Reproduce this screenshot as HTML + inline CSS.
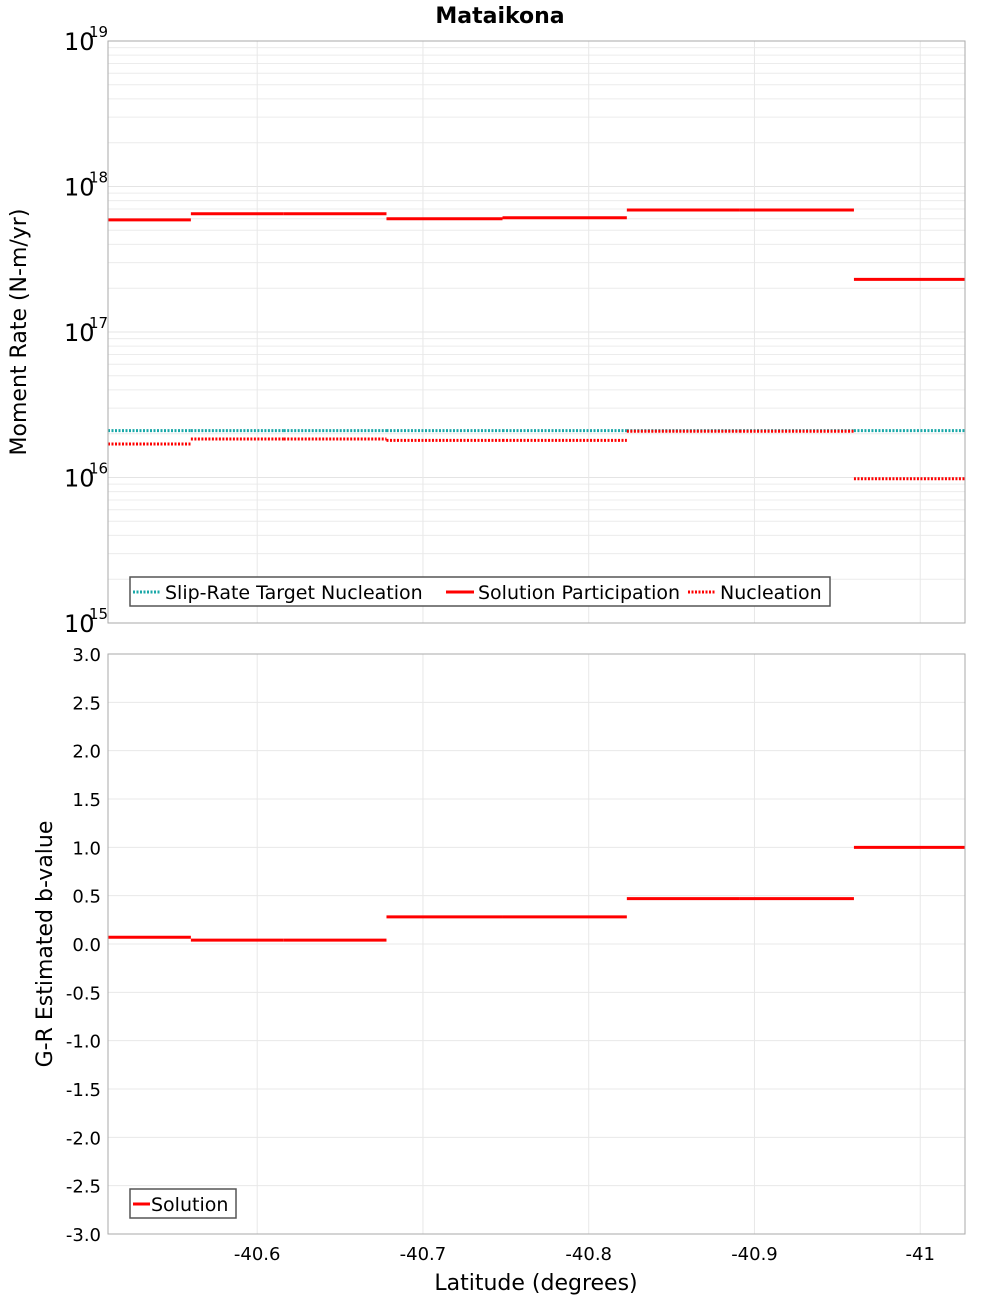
<!DOCTYPE html>
<html><head><meta charset="utf-8"><style>
body{margin:0;background:#fff;}
svg{display:block;font-family:"DejaVu Sans","Liberation Sans",sans-serif;}
</style></head><body>
<svg id="chart" width="1000" height="1300" viewBox="0 0 1000 1300" xmlns="http://www.w3.org/2000/svg">
<text x="500" y="23" text-anchor="middle" font-size="22" font-weight="bold">Mataikona</text>
<text transform="translate(26,332) rotate(-90)" text-anchor="middle" font-size="22">Moment Rate (N-m/yr)</text>
<text transform="translate(52,944) rotate(-90)" text-anchor="middle" font-size="22">G-R Estimated b-value</text>
<text x="536" y="1290" text-anchor="middle" font-size="22">Latitude (degrees)</text>
<g id="topPanel"></g>
<g id="botPanel"></g>
</svg>
<script>
// data
const binEdges = [-40.510, -40.560, -40.616, -40.678, -40.748, -40.823, -40.891, -40.960, -41.027];
const targetNucleation = [2.1e16, 2.1e16, 2.1e16, 2.1e16, 2.1e16, 2.1e16, 2.1e16, 2.1e16];
const solutionParticipation = [5.9e17, 6.5e17, 6.5e17, 6.0e17, 6.1e17, 6.9e17, 6.9e17, 2.3e17];
const nucleation = [1.7e16, 1.84e16, 1.84e16, 1.8e16, 1.8e16, 2.08e16, 2.08e16, 9.8e15];
const bValues = [0.07, 0.04, 0.04, 0.28, 0.28, 0.47, 0.47, 1.0];
const xTicks = [-40.6, -40.7, -40.8, -40.9, -41];
const xTickLabels = ["-40.6", "-40.7", "-40.8", "-40.9", "-41"];
const logTicks = [15, 16, 17, 18, 19];
const bTicks = [3, 2.5, 2, 1.5, 1, 0.5, 0, -0.5, -1, -1.5, -2, -2.5, -3];

const NS = "http://www.w3.org/2000/svg";
const L = 108, R = 965;
const xMin = -40.510, xMax = -41.027;
const X = v => L + (v - xMin) / (xMax - xMin) * (R - L);
const T0 = 41, T1 = 623;
const YT = v => T1 - (Math.log10(v) - 15) / 4 * (T1 - T0);
const B0 = 654, B1 = 1234;
const YB = v => B1 - (v + 3) / 6 * (B1 - B0);

function mk(parent, tag, attrs, text) {
  const e = document.createElementNS(NS, tag);
  for (const k in attrs) e.setAttribute(k, attrs[k]);
  if (text !== undefined) e.textContent = text;
  parent.appendChild(e);
  return e;
}
const topG = document.getElementById('topPanel');
const botG = document.getElementById('botPanel');

// top panel grid
for (let d = 15; d < 19; d++) for (let m = 1; m < 10; m++) {
  const y = YT(m * Math.pow(10, d));
  const g = mk(topG, 'line', {x1: L, x2: R, y1: y, y2: y, stroke: m === 1 ? '#e4e4e4' : '#ececec', 'stroke-width': 1});
  
  
}
xTicks.forEach(t => {
  const g = mk(topG, 'line', {x1: X(t), x2: X(t), y1: T0, y2: T1, stroke: '#e8e8e8'});
  
  
  const g2 = mk(botG, 'line', {x1: X(t), x2: X(t), y1: B0, y2: B1, stroke: '#e8e8e8'});
  
  
});
bTicks.forEach(t => {
  const g = mk(botG, 'line', {x1: L, x2: R, y1: YB(t), y2: YB(t), stroke: '#e8e8e8'});
  
  
  const lb = mk(botG, 'text', {x: 101, y: YB(t) + 7, 'text-anchor': 'end', 'font-size': 18}, t.toFixed(1));
  
  
});
logTicks.forEach(d => {
  const y = YT(Math.pow(10, d));
  const lb = mk(topG, 'text', {x: 64, y: y + 9, 'font-size': 24}, '10');
  
  
  const sp = mk(topG, 'text', {x: 89, y: y - 4, 'font-size': 15}, String(d));
  
  
});
xTicks.forEach((t, i) => {
  const lb = mk(botG, 'text', {x: X(t), y: 1260, 'text-anchor': 'middle', 'font-size': 18}, xTickLabels[i]);
  
  
});

function steps(parent, vals, yf, color, dash, name) {
  vals.forEach((v, i) => {
    const a = {x1: X(binEdges[i]), x2: X(binEdges[i + 1]), y1: yf(v), y2: yf(v), stroke: color, 'stroke-width': 3};
    if (dash) a['stroke-dasharray'] = '2 1.5';
    const s = mk(parent, 'line', a);
    
    
  });
}
steps(topG, solutionParticipation, YT, '#ff0000', false, 'solution-participation-segment');
steps(topG, targetNucleation, YT, '#1aa8a8', true, 'target-nucleation-segment');
steps(topG, nucleation, YT, '#ff0000', true, 'nucleation-segment');
steps(botG, bValues, YB, '#ff0000', false, 'b-value-segment');

// frames
const f1 = mk(topG, 'rect', {x: L, y: T0, width: R - L, height: T1 - T0, fill: 'none', stroke: '#aaa'});


const f2 = mk(botG, 'rect', {x: L, y: B0, width: R - L, height: B1 - B0, fill: 'none', stroke: '#aaa'});



// legends
const lg = mk(topG, 'g', {});


mk(lg, 'rect', {x: 130, y: 577, width: 700, height: 29, fill: '#fff', stroke: '#555', 'stroke-width': 1.5});
const items = [
  {x: 133, c: '#1aa8a8', d: true, t: 'Slip-Rate Target Nucleation', n: 'legend-entry-target'},
  {x: 446, c: '#ff0000', d: false, t: 'Solution Participation', n: 'legend-entry-participation'},
  {x: 688, c: '#ff0000', d: true, t: 'Nucleation', n: 'legend-entry-nucleation'}
];
items.forEach(it => {
  const g = mk(lg, 'g', {});
  
  
  const a = {x1: it.x, x2: it.x + 28, y1: 592, y2: 592, stroke: it.c, 'stroke-width': 3};
  if (it.d) a['stroke-dasharray'] = '2 1.5';
  mk(g, 'line', a);
  mk(g, 'text', {x: it.x + 32, y: 599, 'font-size': 19}, it.t);
});
const lg2 = mk(botG, 'g', {});


mk(lg2, 'rect', {x: 130, y: 1189, width: 106, height: 29, fill: '#fff', stroke: '#555', 'stroke-width': 1.5});
mk(lg2, 'line', {x1: 133, x2: 150, y1: 1204, y2: 1204, stroke: '#ff0000', 'stroke-width': 3});
mk(lg2, 'text', {x: 151, y: 1211, 'font-size': 19}, 'Solution');
</script>
</body></html>
